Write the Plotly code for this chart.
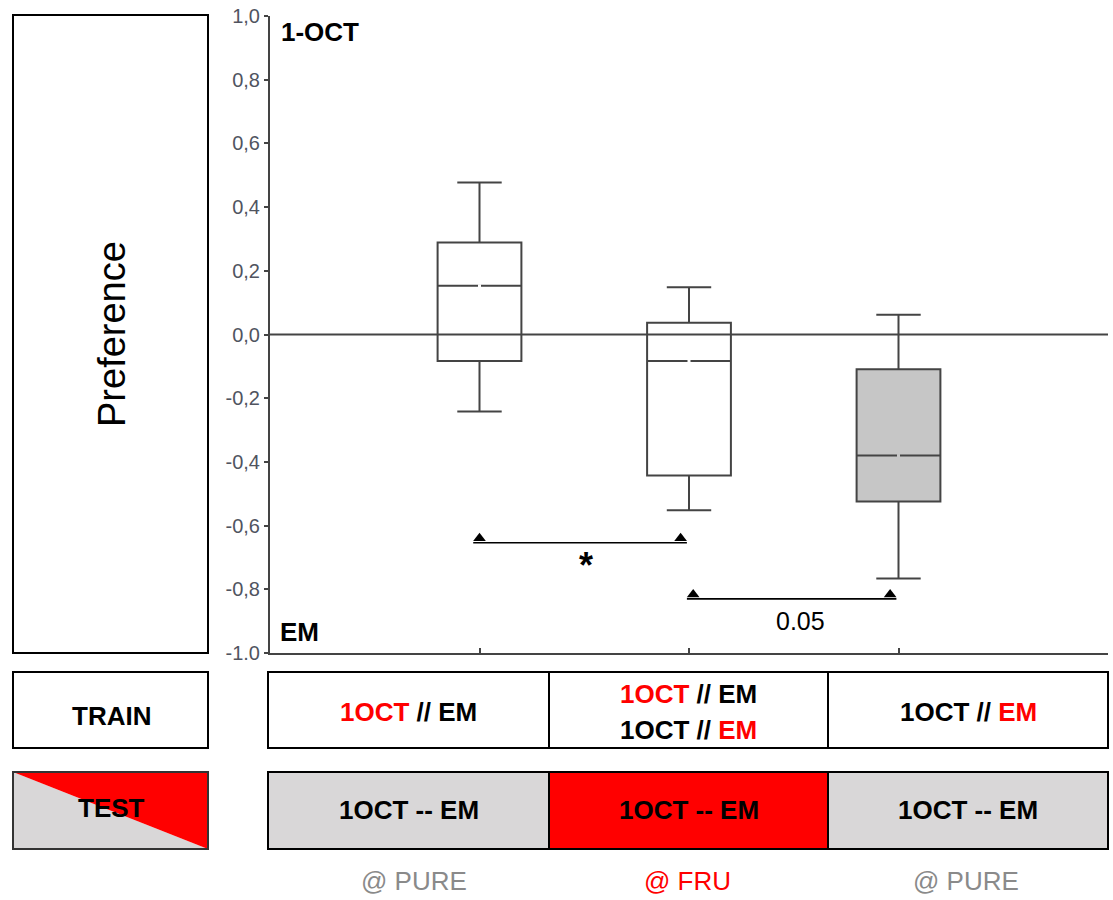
import plotly.graph_objects as go

# ---------------- data ----------------
positions = [0, 1, 2]
upper_whisker = [0.477, 0.148, 0.062]
q3_values = [0.289, 0.037, -0.109]
medians = [0.153, -0.083, -0.380]
q1_values = [-0.083, -0.443, -0.524]
lower_whisker = [-0.242, -0.552, -0.766]
box_fills = ["#ffffff", "#ffffff", "#c6c6c6"]

y_tick_vals = [-1.0, -0.8, -0.6, -0.4, -0.2, 0.0, 0.2, 0.4, 0.6, 0.8, 1.0]
y_tick_text = ["-1.0", "-0,8", "-0,6", "-0,4", "-0,2", "0,0", "0,2", "0,4", "0,6", "0,8", "1,0"]

# significance brackets
bracket_x0 = [-0.03, 0.99]
bracket_x1 = [0.99, 1.99]
bracket_y = [-0.654, -0.830]
bracket_labels = ["*", "0.05"]

train_labels = [
    ["<span style='color:#ff0000'>1OCT</span> // EM"],
    ["<span style='color:#ff0000'>1OCT</span> // EM", "1OCT // <span style='color:#ff0000'>EM</span>"],
    ["1OCT // <span style='color:#ff0000'>EM</span>"],
]
test_labels = ["1OCT -- EM", "1OCT -- EM", "1OCT -- EM"]
test_fills = ["#d9d7d8", "#ff0000", "#d9d7d8"]
odor_labels = ["@ PURE", "@ FRU", "@ PURE"]
odor_colors = ["#8a8a8a", "#ff0000", "#8a8a8a"]

FONT = "Liberation Sans, Arial, sans-serif"
W, H = 1113, 900
LINE = "#444444"
TXT = 26


def px(x):
    return x / W


def py(y):
    return 1 - y / H


fig = go.Figure()

# zero reference line
fig.add_trace(go.Scatter(x=[-1, 3], y=[0, 0], mode="lines",
                         line=dict(color=LINE, width=2), hoverinfo="skip", showlegend=False))

for i, p in enumerate(positions):
    fig.add_trace(go.Box(
        x=[p], q1=[q1_values[i]], median=[medians[i]], q3=[q3_values[i]],
        lowerfence=[lower_whisker[i]], upperfence=[upper_whisker[i]],
        width=0.4, whiskerwidth=0.53, fillcolor=box_fills[i],
        line=dict(color=LINE, width=2), boxpoints=False,
        hoverinfo="skip", showlegend=False,
    ))

# small gap in the middle of each median line
fig.add_trace(go.Scatter(x=positions, y=medians, mode="markers",
                         marker=dict(symbol="square", size=3, color=box_fills, line=dict(width=0)),
                         hoverinfo="skip", showlegend=False))

# brackets
for i in range(len(bracket_y)):
    fig.add_trace(go.Scatter(x=[bracket_x0[i], bracket_x1[i]], y=[bracket_y[i]] * 2, mode="lines",
                             line=dict(color="black", width=1.6), hoverinfo="skip", showlegend=False))
    fig.add_trace(go.Scatter(x=[bracket_x0[i] + 0.03, bracket_x1[i] - 0.03], y=[bracket_y[i] + 0.014] * 2,
                             mode="markers", marker=dict(symbol="triangle-up", size=11, color="black"),
                             hoverinfo="skip", showlegend=False))

fig.add_annotation(x=(bracket_x0[0] + bracket_x1[0]) / 2 + 0.03, y=bracket_y[0] - 0.07, text="<b>*</b>",
                   showarrow=False, xanchor="center", yanchor="middle",
                   font=dict(family=FONT, size=36, color="black"))
fig.add_annotation(x=(bracket_x0[1] + bracket_x1[1]) / 2 + 0.04, y=bracket_y[1] - 0.068, text=bracket_labels[1],
                   showarrow=False, xanchor="center", yanchor="middle",
                   font=dict(family=FONT, size=25, color="black"))

fig.update_layout(
    width=W, height=H,
    margin=dict(l=0, r=0, t=0, b=0, pad=0, autoexpand=False),
    paper_bgcolor="white", plot_bgcolor="white",
    font=dict(family=FONT),
    xaxis=dict(domain=[px(270), px(1108)], range=[-1, 3], showgrid=False, zeroline=False,
               showline=True, linecolor=LINE, linewidth=2, tickmode="array", tickvals=positions,
               ticks="inside", ticklen=5, tickwidth=2, tickcolor=LINE, showticklabels=False,
               automargin=False),
    yaxis=dict(domain=[py(653), py(16)], range=[-1, 1], showgrid=False, zeroline=False,
               showline=True, linecolor=LINE, linewidth=2, tickmode="array",
               tickvals=y_tick_vals, ticktext=y_tick_text, ticks="outside", ticklen=4,
               tickwidth=2, tickcolor=LINE, tickfont=dict(family=FONT, size=20, color="#50545f"),
               ticklabeloverflow="allow", automargin=False),
)

shapes = []
annotations = []


def label(x, y, text, size=TXT, color="black", **kw):
    annotations.append(dict(xref="paper", yref="paper", x=px(x), y=py(y), xanchor="center",
                            yanchor="middle", text=text, showarrow=False,
                            font=dict(family=FONT, size=size, color=color), **kw))


# corner labels inside plot
label(320, 32, "<b>1-OCT</b>")
label(299, 632, "<b>EM</b>")

# left Preference panel
shapes.append(dict(type="rect", xref="paper", yref="paper", x0=px(13), x1=px(208), y0=py(653), y1=py(15),
                   line=dict(color="black", width=2), fillcolor="white"))
label(112, 334, "Preference", size=38, textangle=-90)

# TRAIN label
shapes.append(dict(type="rect", xref="paper", yref="paper", x0=px(13), x1=px(208), y0=py(748), y1=py(672),
                   line=dict(color="black", width=2), fillcolor="white"))
label(111, 716, "<b>TRAIN</b>")

# TEST label (split diagonal)
shapes.append(dict(type="path", xref="paper", yref="paper",
                   path=f"M {px(13)},{py(772)} L {px(13)},{py(849)} L {px(208)},{py(849)} Z",
                   fillcolor="#d9d7d8", line=dict(width=0)))
shapes.append(dict(type="path", xref="paper", yref="paper",
                   path=f"M {px(13)},{py(772)} L {px(208)},{py(772)} L {px(208)},{py(849)} Z",
                   fillcolor="#ff0000", line=dict(width=0)))
shapes.append(dict(type="rect", xref="paper", yref="paper", x0=px(13), x1=px(208), y0=py(849), y1=py(772),
                   line=dict(color="#333333", width=2)))
label(111, 808, "<b>TEST</b>")

# condition cells
cell_edges = [268, 549, 828, 1108]
odor_x = [414, 687, 966]
for i in range(3):
    x0, x1 = cell_edges[i], cell_edges[i + 1]
    cx = (x0 + x1) / 2
    shapes.append(dict(type="rect", xref="paper", yref="paper", x0=px(x0), x1=px(x1), y0=py(748), y1=py(672),
                       line=dict(color="black", width=2), fillcolor="white"))
    lines = train_labels[i]
    ys = [712] if len(lines) == 1 else [694, 730]
    for t, yy in zip(lines, ys):
        label(cx, yy, f"<b>{t}</b>")
    shapes.append(dict(type="rect", xref="paper", yref="paper", x0=px(x0), x1=px(x1), y0=py(849), y1=py(772),
                       line=dict(color="black", width=2), fillcolor=test_fills[i]))
    label(cx, 810, f"<b>{test_labels[i]}</b>")
    label(odor_x[i], 881, odor_labels[i], color=odor_colors[i])

fig.update_layout(shapes=shapes, annotations=list(fig.layout.annotations) + annotations)

# remove the browser's default 8px body margin so the figure fills the window exactly
fig.write_html("out.html", config={"displayModeBar": False, "staticPlot": True},
               post_script="document.body.style.margin='0';document.body.style.overflow='hidden';")
